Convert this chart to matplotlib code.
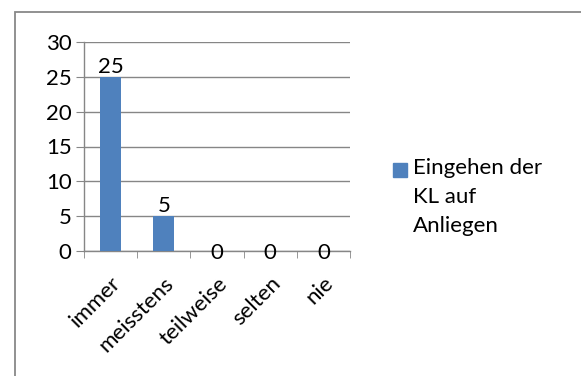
import numpy as np
import matplotlib.pyplot as plt
from matplotlib.patches import Rectangle

categories = ['immer', 'meisstens', 'teilweise', 'selten', 'nie']
values = [25, 5, 0, 0, 0]
series_name = 'Eingehen der\nKL auf\nAnliegen'
yticks = [0, 5, 10, 15, 20, 25, 30]

bar_color = '#4F81BD'
grid_color = '#868686'
fs = 16

plt.rcParams['font.family'] = ['Lato', 'DejaVu Sans']

W, H = 581, 376
fig = plt.figure(figsize=(W / 100, H / 100), dpi=100)
ax = fig.add_axes([84 / W, 1 - 251 / H, (350 - 84) / W, (251 - 42) / H])

# outer chart frame, running off the right and bottom edges
fig.patches.append(Rectangle((15 / W, -0.1), 1.2, 1 - 12 / H + 0.1,
                             transform=fig.transFigure, fill=False,
                             edgecolor='#888888', lw=1.3))

x = np.arange(len(categories))
bars = ax.bar(x, values, width=0.4, color=bar_color, zorder=3)

for xi, v in zip(x, values):
    if v > 0:
        ax.annotate(str(v), (xi, v), xytext=(0, 0), textcoords='offset points',
                    ha='center', va='bottom', fontsize=fs)
    else:
        ax.annotate(str(v), (xi, v), xytext=(0, -1.5), textcoords='offset points',
                    ha='center', va='center', fontsize=fs)

ax.set_xlim(-0.5, len(categories) - 0.5)
ax.set_ylim(0, 30)
ax.set_yticks(yticks)
ax.yaxis.grid(True, color=grid_color, lw=1, zorder=0)
ax.tick_params(axis='y', length=6, color=grid_color, labelsize=fs, pad=3)

ax.set_xticks(x)
ax.set_xticklabels(categories, rotation=45, ha='right', rotation_mode='anchor',
                   fontsize=fs)
ax.set_xticks(np.arange(-0.5, len(categories)), minor=True)
ax.tick_params(axis='x', which='major', length=0, pad=16)
ax.tick_params(axis='x', which='minor', length=5, color=grid_color)

for side in ['top', 'right']:
    ax.spines[side].set_visible(False)
for side in ['left', 'bottom']:
    ax.spines[side].set_color(grid_color)
    ax.spines[side].set_linewidth(1)

# legend: key square beside the first line of the series name
fig.patches.append(Rectangle((393 / W, 1 - 177 / H), 14 / W, 14 / H,
                             transform=fig.transFigure, color=bar_color))
fig.text(413 / W, 1 - 158 / H, series_name, fontsize=fs, va='top', ha='left',
         linespacing=1.55)

fig.savefig('out.png', dpi=100)
